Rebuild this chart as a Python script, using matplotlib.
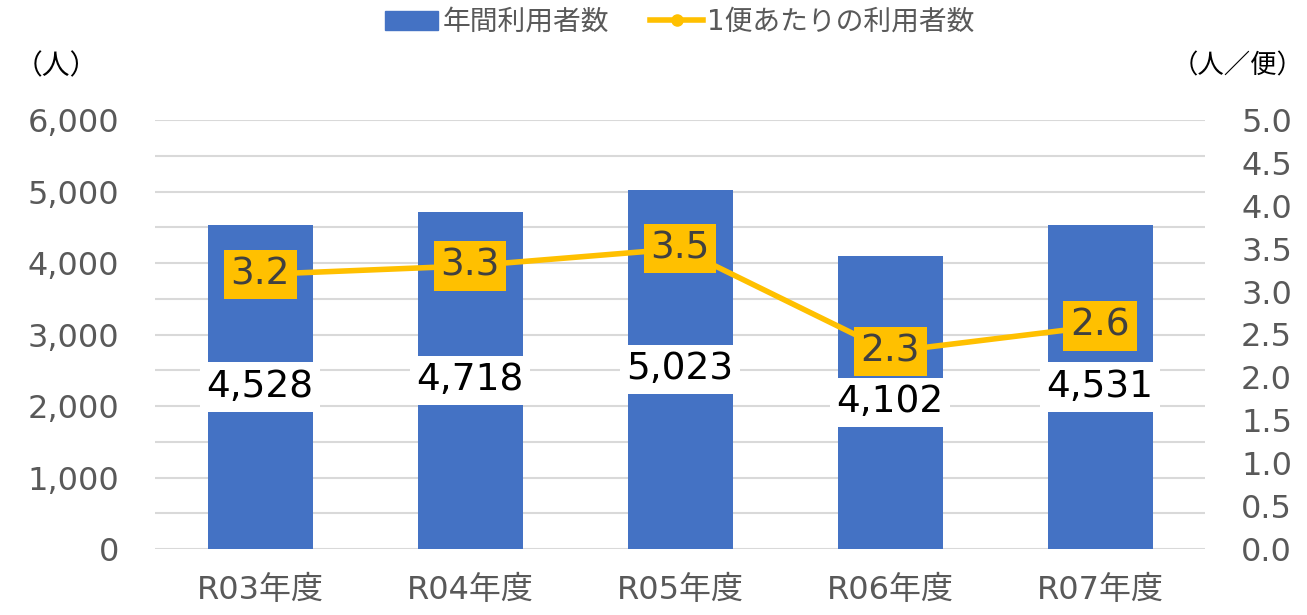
import numpy as np
import matplotlib
matplotlib.use("Agg")
import matplotlib.pyplot as plt
from matplotlib.lines import Line2D
from matplotlib.patches import Patch

plt.rcParams["font.family"] = ["DejaVu Sans", "Noto Sans CJK JP"]

years = ["R03年度", "R04年度", "R05年度", "R06年度", "R07年度"]
users = [4528, 4718, 5023, 4102, 4531]
per_flight = [3.2, 3.3, 3.5, 2.3, 2.6]

BLUE = "#4472C4"
GOLD = "#FFC000"
GRAY = "#595959"

fig = plt.figure(figsize=(13.07, 6.15), dpi=100)
ax = fig.add_axes([155 / 1307, 1 - 549 / 615, 1050 / 1307, 429 / 615])
ax2 = ax.twinx()

x = np.arange(len(years))
ax.bar(x, users, width=0.5, color=BLUE, zorder=2)
ax.set_ylim(0, 6000)
ax.set_xlim(-0.5, len(years) - 0.5)
ax.set_yticks(np.arange(0, 6001, 1000))
ax.set_yticklabels([f"{v:,}" for v in range(0, 6001, 1000)])
ax.set_xticks(x)
ax.set_xticklabels(years)
for y in np.arange(500, 6001, 500):
    ax.axhline(y, color="#D9D9D9", lw=1.5, zorder=0)
ax.axhline(0, color="#D9D9D9", lw=1.5, zorder=0)

# bar value labels in white boxes, centred in the bar
for xi, v in zip(x, users):
    ax.text(xi, v / 2, f"{v:,}", ha="center", va="center", fontsize=27,
            color="black", zorder=4,
            bbox=dict(facecolor="white", edgecolor="none",
                      boxstyle="square,pad=0.18"))

ax2.plot(x, per_flight, color=GOLD, lw=4, marker="o", ms=8, zorder=3)
ax2.set_ylim(0, 5.0)
ax2.set_yticks(np.arange(0, 5.01, 0.5))
ax2.set_yticklabels([f"{v:.1f}" for v in np.arange(0, 5.01, 0.5)])
for xi, v in zip(x, per_flight):
    ax2.text(xi, v, f"{v:.1f}", ha="center", va="center", fontsize=27,
             color="#404040", zorder=5,
             bbox=dict(facecolor=GOLD, edgecolor="none",
                       boxstyle="square,pad=0.18"))

for a in (ax, ax2):
    for s in a.spines.values():
        s.set_visible(False)
    a.tick_params(length=0, labelsize=23, colors=GRAY, pad=26)
ax.tick_params(axis="x", labelsize=23, pad=19)

fig.text(15 / 1307, 1 - 66 / 615, "（人）", fontsize=20, color="black",
         ha="left", va="center")
fig.text(1304 / 1307, 1 - 66 / 615, "（人／便）", fontsize=19, color="black",
         ha="right", va="center")

handles = [Patch(color=BLUE),
           Line2D([0], [0], color=GOLD, lw=4, marker="o", ms=8)]
fig.legend(handles, ["年間利用者数", "1便あたりの利用者数"], loc="center",
           bbox_to_anchor=(680 / 1307, 1 - 22 / 615), ncol=2, frameon=False,
           fontsize=20, labelcolor=GRAY, handlelength=1.9, columnspacing=1.5,
           handletextpad=0.15)

fig.savefig("out.png", dpi=100)
